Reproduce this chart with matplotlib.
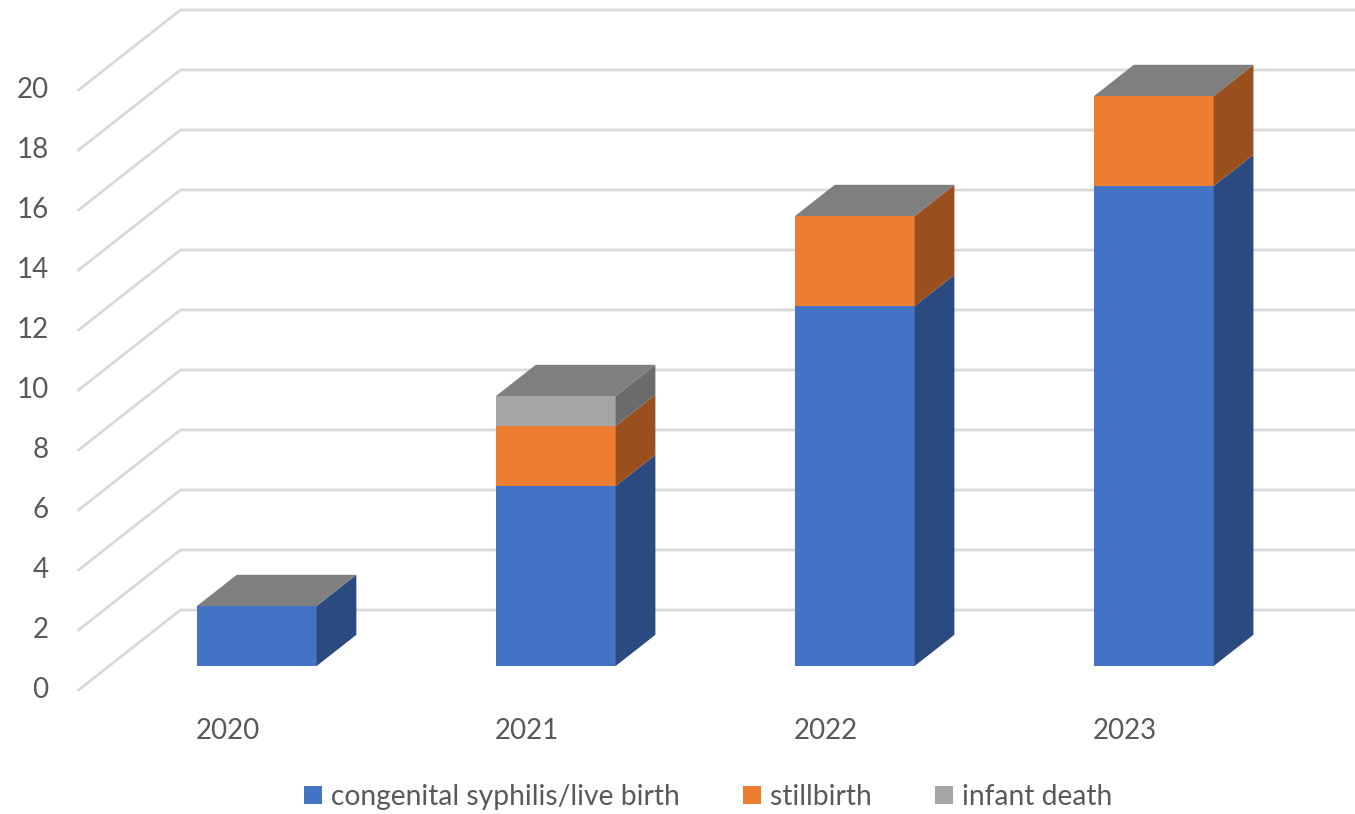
import matplotlib
matplotlib.use("Agg")
import matplotlib.pyplot as plt
from matplotlib.patches import Patch

# Congenital syphilis cases by year, stacked by outcome
years = ["2020", "2021", "2022", "2023"]
live_birth = [2, 6, 12, 16]
stillbirth = [0, 2, 3, 3]
infant_death = [0, 1, 0, 0]
y_ticks = list(range(0, 21, 2))

series = [
    ("congenital syphilis/live birth", live_birth, "#4472C4", "#2B4A7F"),
    ("stillbirth", stillbirth, "#ED7D31", "#9A4F1F"),
    ("infant death", infant_death, "#A5A5A5", "#6B6B6B"),
]
TOP_COLOR = "#7F7F7F"
GRID_COLOR = "#D9D9D9"
TEXT_COLOR = "#595959"

# oblique projection: depth 0 = front floor edge, depth 1 = back wall
DX, DY = 0.341, 2.667
BAR_D0, BAR_D1 = 0.30, 0.69
HALF_W = 0.20


def proj(x, v, d):
    return x + d * DX, v + d * DY


def face(ax, pts, color, z):
    xs, ys = zip(*pts)
    ax.fill(xs, ys, color=color, linewidth=0, zorder=z)


plt.rcParams["font.family"] = ["Lato", "DejaVu Sans"]

fig = plt.figure(figsize=(13.55, 8.14), dpi=100)
ax = fig.add_axes([0, 0, 1, 1])
ax.set_xlim(-0.7625, 3.769)
ax.set_ylim(-4.133, 23.0)
ax.axis("off")

# gridlines: diagonal on the side floor, horizontal on the back wall
x_left = -0.5
for v in y_ticks:
    p0 = proj(x_left, v, 0)
    p1 = proj(x_left, v, 1)
    ax.plot([p0[0], p1[0], 4.5], [p0[1], p1[1], p1[1]],
            color=GRID_COLOR, linewidth=2, zorder=1, solid_joinstyle="miter")
    ax.text(x_left - 0.1, v, str(v), ha="right", va="center",
            fontsize=20, color=TEXT_COLOR)

# stacked 3D columns
for i, year in enumerate(years):
    xc = i - 0.006
    x0, x1 = xc - HALF_W, xc + HALF_W
    base = 0
    for name, values, front, side in series:
        h = values[i]
        if h == 0:
            continue
        top = base + h
        face(ax, [proj(x0, base, BAR_D0), proj(x1, base, BAR_D0),
                  proj(x1, top, BAR_D0), proj(x0, top, BAR_D0)], front, 3)
        face(ax, [proj(x1, base, BAR_D0), proj(x1, base, BAR_D1),
                  proj(x1, top, BAR_D1), proj(x1, top, BAR_D0)], side, 3)
        base = top
    face(ax, [proj(x0, base, BAR_D0), proj(x1, base, BAR_D0),
              proj(x1, base, BAR_D1), proj(x0, base, BAR_D1)], TOP_COLOR, 3)
    ax.text(i, -1.37, year, ha="center", va="center",
            fontsize=20, color=TEXT_COLOR)

handles = [Patch(facecolor=c, edgecolor="none", label=n) for n, _, c, _ in series]
fig.legend(handles=handles, loc="center", bbox_to_anchor=(0.5225, 0.021),
           ncol=3, frameon=False, fontsize=20.3, labelcolor=TEXT_COLOR,
           handlelength=0.65, handleheight=0.65, handletextpad=0.3,
           columnspacing=2.25)

fig.savefig("out.png", dpi=100)
